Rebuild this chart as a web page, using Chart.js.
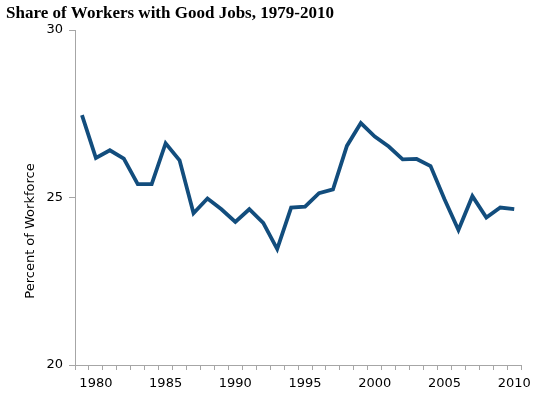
<!DOCTYPE html>
<html>
<head>
<meta charset="utf-8">
<script src="https://cdn.jsdelivr.net/npm/chart.js@4"></script>
<style>
html,body{margin:0;padding:0;background:#fff;}
#wrap{width:537px;height:399px;position:relative;}
</style>
</head>
<body>
<div id="wrap"><canvas id="c"></canvas></div>
<script>
const years = [1979,1980,1981,1982,1983,1984,1985,1986,1987,1988,1989,1990,1991,1992,1993,1994,1995,1996,1997,1998,1999,2000,2001,2002,2003,2004,2005,2006,2007,2008,2009,2010];
const goodJobsShare = [27.46,26.18,26.41,26.16,25.40,25.40,26.62,26.11,24.53,24.97,24.65,24.27,24.65,24.24,23.46,24.70,24.73,25.13,25.24,26.54,27.22,26.82,26.52,26.14,26.15,25.94,24.95,24.03,25.04,24.40,24.70,24.65];
const yTicks = [20,25,30];
const labeledYears = [1980,1985,1990,1995,2000,2005,2010];

const tickFont = {family:'"DejaVu Sans", Verdana, sans-serif', size:13};
const axisGray = '#a6a6a6';

const yTitlePlugin = {
  id:'yTitle',
  afterDraw(chart){
    const ctx = chart.ctx, a = chart.chartArea;
    ctx.save();
    ctx.font = '13px "DejaVu Sans", Verdana, sans-serif';
    ctx.fillStyle = '#000';
    ctx.textAlign = 'center';
    ctx.textBaseline = 'middle';
    ctx.translate(a.left - 44, a.top + (a.bottom - a.top) * 0.6);
    ctx.rotate(-Math.PI/2);
    ctx.fillText('Percent of Workforce', 0, 0);
    ctx.restore();
  }
};

new Chart(document.getElementById('c'), {
  type:'line',
  data:{
    labels: years.map(String),
    datasets:[{
      data: goodJobsShare,
      borderColor:'#124D7D',
      borderWidth:3.8,
      pointRadius:0,
      tension:0,
      fill:false
    }]
  },
  options:{
    responsive:true,
    maintainAspectRatio:false,
    animation:false,
    layout:{padding:{left:6,right:15,top:0,bottom:0}},
    plugins:{
      legend:{display:false},
      tooltip:{enabled:false},
      title:{
        display:true,
        text:'Share of Workers with Good Jobs, 1979-2010',
        align:'start',
        color:'#000',
        font:{family:'"Liberation Serif", "Times New Roman", serif', size:17, weight:'bold'},
        padding:{top:3,bottom:6.6}
      }
    },
    scales:{
      x:{
        type:'category',
        offset:true,
        afterFit(s){ s.height = 34; },
        grid:{display:true, offset:true, drawOnChartArea:false, drawTicks:true, tickLength:5, color:axisGray},
        border:{display:true, color:axisGray, width:1},
        ticks:{
          autoSkip:false, maxRotation:0, minRotation:0, color:'#000', font:tickFont, padding:6,
          callback(v, i){ const y = years[i]; return labeledYears.includes(y) ? String(y) : ''; }
        }
      },
      y:{
        min:20, max:30,
        afterFit(s){ s.width = 69; },
        afterBuildTicks(s){ s.ticks = yTicks.map(v => ({value:v})); },
        grid:{display:true, drawOnChartArea:false, drawTicks:true, tickLength:6, color:axisGray},
        border:{display:true, color:axisGray, width:1},
        ticks:{color:'#000', font:tickFont, padding:6}
      }
    }
  },
  plugins:[yTitlePlugin]
});
</script>
</body>
</html>
